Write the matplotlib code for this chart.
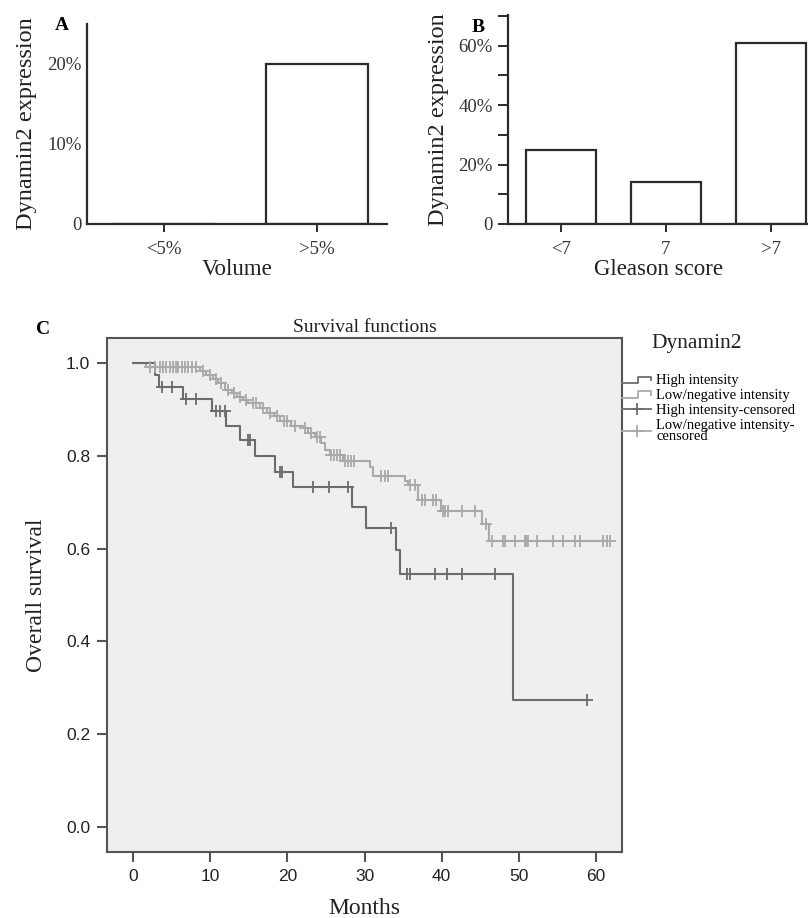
import numpy as np
import matplotlib
matplotlib.use("Agg")
import matplotlib.pyplot as plt
from matplotlib.lines import Line2D
from matplotlib.legend_handler import HandlerBase

# ---- data ----
vol_cats = ["<5%", ">5%"]
vol_vals = [0, 20]

gleason_cats = ["<7", "7", ">7"]
gleason_vals = [25, 14, 61]

# Kaplan-Meier, high intensity
high_times = [0, 2.8, 3.3, 6.4, 10.2, 12.1, 13.8, 15.8, 18.4, 20.7, 28.4, 30.2, 34.1, 34.6, 49.3]
high_surv = [1.0, 0.974, 0.948, 0.922, 0.896, 0.865, 0.835, 0.800, 0.766, 0.732, 0.690, 0.645, 0.598, 0.546, 0.273]
high_cens = [3.7, 5.0, 6.9, 8.2, 10.8, 11.2, 11.9, 14.9, 15.2, 19.0, 19.3, 23.3, 25.4, 27.8,
             33.4, 35.5, 35.9, 39.2, 40.7, 42.6, 46.9, 58.8]

# Kaplan-Meier, low/negative intensity
low_times = [0, 1.7, 8.6, 9.5, 10.4, 11.0, 11.9, 12.8, 13.4, 14.3, 14.9, 16.4, 17.3, 18.2, 19.0,
             20.5, 22.0, 22.7, 23.6, 24.4, 24.9, 25.5, 27.2, 30.7, 31.1, 35.2, 35.6, 37.0, 39.9, 45.2, 46.2]
low_surv = [1.0, 0.992, 0.983, 0.974, 0.965, 0.956, 0.942, 0.935, 0.926, 0.920, 0.913, 0.903, 0.893,
            0.885, 0.876, 0.865, 0.860, 0.850, 0.840, 0.827, 0.813, 0.802, 0.788, 0.776, 0.757, 0.745,
            0.738, 0.705, 0.680, 0.652, 0.616]
low_cens = [2.2, 2.8, 3.5, 3.9, 4.3, 4.8, 5.2, 5.5, 5.8, 6.3, 6.7, 7.1, 7.6, 8.2, 9.0, 9.9, 10.7,
            11.4, 12.3, 13.1, 13.8, 14.6, 15.5, 15.9, 16.8, 17.7, 18.6, 19.6, 20.0, 21.0, 22.3, 23.1,
            23.9, 24.2, 25.7, 26.0, 26.4, 26.8, 27.5, 27.9, 28.3, 28.6, 32.2, 32.6, 33.1, 35.9, 36.5,
            37.4, 37.8, 38.9, 39.3, 40.2, 40.5, 40.8, 42.6, 44.3, 45.8, 46.5, 48.0, 48.2, 49.5, 50.8,
            51.0, 51.2, 52.4, 54.5, 55.7, 57.3, 57.9, 61.0, 61.4, 61.9]

SERIF = "Liberation Serif"
SANS = "Liberation Sans"
EDGE = "#2b2b2b"
HIGH_C = "#6c6c6c"
LOW_C = "#a9a9a9"

W, H = 808, 918
fig = plt.figure(figsize=(W / 100, H / 100), dpi=100)


def box(l, t, r, b):
    # pixel box -> figure fraction
    return [l / W, 1 - b / H, (r - l) / W, (b - t) / H]


def bar_panel(rect, cats, vals, ylim, ticks, labels, xlab, letter, letter_xy, xmax, ytick_len):
    ax = fig.add_axes(rect)
    x = np.arange(len(cats))
    ax.bar(x, vals, width=0.667, facecolor="white", edgecolor=EDGE, linewidth=1.6)
    ax.set_xlim(-0.5, xmax)
    ax.set_ylim(*ylim)
    for s in ["top", "right"]:
        ax.spines[s].set_visible(False)
    for s in ["left", "bottom"]:
        ax.spines[s].set_linewidth(1.6)
        ax.spines[s].set_color(EDGE)
    ax.set_xticks(x)
    ax.set_xticklabels(cats, fontfamily=SERIF, fontsize=13.5, color="#333333")
    ax.set_yticks(ticks)
    ax.set_yticklabels(labels, fontfamily=SERIF, fontsize=13.5, color="#333333")
    ax.tick_params(axis="x", length=6, width=1.4, color=EDGE, pad=6)
    ax.tick_params(axis="y", length=ytick_len, width=1.4, color=EDGE, pad=4)
    ax.set_xlabel(xlab, fontfamily=SERIF, fontsize=16.5, color="#222222", labelpad=1)
    ax.set_ylabel("Dynamin2 expression", fontfamily=SERIF, fontsize=17.5, color="#222222", labelpad=7)
    fig.text(letter_xy[0] / W, 1 - letter_xy[1] / H, letter, fontfamily=SERIF,
             fontweight="bold", fontsize=14, ha="center", va="center")
    return ax


# A
bar_panel(box(87, 24, 387, 224), vol_cats, vol_vals, (0, 25), [0, 10, 20],
          ["0", "10%", "20%"], "Volume", "A", (62, 26), 1.46, 0)

# B
bt = np.arange(0, 71, 10)
bl = ["0" if v == 0 else (f"{v}%" if v % 20 == 0 else "") for v in bt]
bar_panel(box(508, 15, 808, 224), gleason_cats, gleason_vals, (0, 70.3), bt, bl,
          "Gleason score", "B", (478, 27), 2.35, 7)

# C
axc = fig.add_axes(box(107, 338, 622, 852))
axc.set_facecolor("#efefef")


def km(ax, times, surv, cens, color, end):
    t = list(times) + [end]
    s = list(surv) + [surv[-1]]
    ax.step(t, s, where="post", color=color, lw=1.5, zorder=3)
    idx = np.searchsorted(times, cens, side="right") - 1
    ax.plot(cens, np.asarray(surv)[idx], linestyle="none", marker="+", markersize=8,
            markeredgewidth=1.3, color=color, zorder=4)


km(axc, low_times, low_surv, low_cens, LOW_C, max(low_cens))
km(axc, high_times, high_surv, high_cens, HIGH_C, max(high_cens))

axc.set_xlim(-3.4, 63.4)
axc.set_ylim(-0.054, 1.054)
axc.set_xticks(np.arange(0, 61, 10))
axc.set_yticks(np.arange(0, 1.01, 0.2))
axc.set_yticklabels([f"{v:.1f}" for v in np.arange(0, 1.01, 0.2)])
for lab in axc.get_xticklabels() + axc.get_yticklabels():
    lab.set_fontfamily(SANS)
    lab.set_fontsize(12.5)
    lab.set_color("#222222")
for s in axc.spines.values():
    s.set_linewidth(1.5)
    s.set_color("#555555")
axc.tick_params(length=7, width=1.5, color="#555555", pad=5)
axc.set_title("Survival functions", fontfamily=SERIF, fontsize=14, color="#222222", pad=4)
axc.set_xlabel("Months", fontfamily=SERIF, fontsize=17, color="#222222", labelpad=10)
axc.set_ylabel("Overall survival", fontfamily=SERIF, fontsize=17, color="#222222", labelpad=14)
fig.text(43 / W, 1 - 330 / H, "C", fontfamily=SERIF, fontweight="bold", fontsize=14,
         ha="center", va="center")


class StepHandler(HandlerBase):
    def create_artists(self, legend, orig_handle, xdescent, ydescent, width, height, fontsize, trans):
        x0 = -xdescent
        x1 = x0 + width
        xm = x0 + width * 0.55
        y0 = -ydescent + height * 0.15
        y1 = -ydescent + height * 0.75
        ln = Line2D([x0, xm, xm, x1, x1], [y0, y0, y1, y1, y1 - height * 0.3],
                    color=orig_handle.get_color(), lw=1.3, transform=trans)
        return [ln]


h1 = Line2D([], [], color=HIGH_C, lw=1.3)
h2 = Line2D([], [], color=LOW_C, lw=1.3)
h3 = Line2D([], [], color=HIGH_C, lw=1.3, marker="+", markersize=9, markeredgewidth=1.3)
h4 = Line2D([], [], color=LOW_C, lw=1.3, marker="+", markersize=9, markeredgewidth=1.3)
leg = axc.legend([h1, h2, h3, h4],
                 ["High intensity", "Low/negative intensity", "High intensity-censored",
                  "Low/negative intensity-\ncensored"],
                 handler_map={h1: StepHandler(), h2: StepHandler()},
                 loc="upper left", bbox_to_anchor=(1.0, 0.93), borderaxespad=0, borderpad=0,
                 frameon=False, handlelength=2.0, handletextpad=0.35, labelspacing=0.12,
                 prop={"family": SERIF, "size": 10.5})
for t in leg.get_texts():
    t.set_linespacing(0.8)
fig.text(651 / W, 1 - 343 / H, "Dynamin2", fontfamily=SERIF, fontsize=15.5,
         ha="left", va="center", color="#222222")

fig.savefig("out.png", dpi=100, facecolor="white")
